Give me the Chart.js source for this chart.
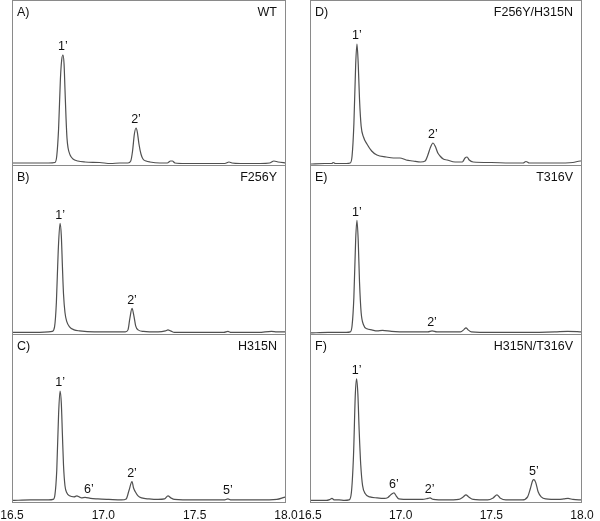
<!DOCTYPE html>
<html><head><meta charset="utf-8">
<script src="https://cdn.jsdelivr.net/npm/chart.js@4.4.1/dist/chart.umd.min.js"></script>
<style>
html,body{margin:0;padding:0;background:#fff;}
#wrap{position:relative;width:600px;height:521px;overflow:hidden;background:#fff;}
.cell{position:absolute;}
</style></head><body><div id="wrap"></div>
<script>
// ---- data (retention time in min, relative intensity) ----
const timeTicks = [16.5, 17.0, 17.5, 18.0];
const panelLetters = ['A)', 'B)', 'C)', 'D)', 'E)', 'F)'];
const panelNames = ['WT', 'F256Y', 'H315N', 'F256Y/H315N', 'T316V', 'H315N/T316V'];

const traceA = [[16.50,1],[16.60,1],[16.70,1],[16.735,1.5],[16.745,8],[16.755,35],[16.765,85],[16.772,104],[16.779,109],[16.785,100],[16.790,75],[16.796,45],[16.801,26],[16.807,16],[16.818,9],[16.834,5],[16.86,3],[16.90,2],[16.98,1.5],[17.04,0.5],[17.09,1],[17.135,1],[17.150,3],[17.160,13],[17.170,30],[17.179,36],[17.186,32],[17.195,20],[17.206,10],[17.217,5],[17.234,3],[17.255,2],[17.31,1],[17.35,1],[17.368,3],[17.378,3],[17.392,1],[17.45,0.5],[17.53,0.5],[17.665,0.5],[17.688,2],[17.704,1],[17.75,0.5],[17.86,0.5],[17.91,1],[17.934,3],[17.956,2],[18.0,1]];
const traceB = [[16.50,0.5],[16.60,0.5],[16.70,1],[16.72,1.5],[16.733,6],[16.743,30],[16.753,80],[16.763,107],[16.770,95],[16.776,65],[16.782,38],[16.790,20],[16.800,11],[16.815,6],[16.84,3],[16.87,2],[16.95,1],[17.05,1],[17.12,1],[17.135,3],[17.145,14],[17.157,24],[17.167,17],[17.177,7],[17.19,3],[17.22,1.5],[17.30,1],[17.34,2],[17.354,3],[17.368,2],[17.39,0.5],[17.50,0.5],[17.66,0.5],[17.682,1.5],[17.70,0.5],[17.85,0.5],[17.92,1.5],[17.95,1],[18.0,1]];
const traceC = [[16.50,0.5],[16.60,1],[16.70,1],[16.725,1.5],[16.735,6],[16.745,30],[16.755,85],[16.763,108],[16.770,96],[16.776,65],[16.782,35],[16.790,15],[16.800,8],[16.815,5],[16.84,4],[16.855,5],[16.868,4],[16.88,3],[16.90,3.5],[16.93,2.5],[16.97,2],[17.03,1.5],[17.10,1],[17.125,2],[17.140,10],[17.157,19],[17.165,13],[17.175,9],[17.19,5],[17.21,3],[17.25,2],[17.30,1.5],[17.335,2],[17.354,5],[17.37,3],[17.39,1.5],[17.50,1],[17.66,1],[17.682,2],[17.70,1],[17.85,1],[17.95,1.5],[17.99,3.5],[18.0,4]];
const traceD = [[16.50,0],[16.58,0.5],[16.62,0.5],[16.628,1.5],[16.64,0.5],[16.70,0.5],[16.722,1],[16.732,8],[16.742,40],[16.752,100],[16.759,120],[16.766,100],[16.773,65],[16.782,38],[16.795,27],[16.814,20],[16.84,13],[16.869,9],[16.92,7],[16.96,6],[16.996,6],[17.03,4],[17.068,3],[17.11,2],[17.135,3],[17.150,9],[17.165,17],[17.178,21],[17.19,18],[17.205,11],[17.217,8],[17.235,5],[17.256,4],[17.30,2],[17.34,2],[17.355,6],[17.366,7],[17.378,4],[17.40,2],[17.50,1.5],[17.60,1],[17.675,1],[17.691,2.5],[17.71,1],[17.85,1],[17.95,1.5],[17.99,3],[18.0,3]];
const traceE = [[16.50,0],[16.60,0.5],[16.70,0.5],[16.722,1],[16.732,7],[16.742,35],[16.752,92],[16.759,110],[16.766,90],[16.773,50],[16.782,20],[16.795,8],[16.814,4],[16.84,3],[16.87,2],[16.90,2.5],[16.95,1.5],[17.05,1],[17.15,1],[17.173,2],[17.20,1],[17.33,1],[17.35,3.5],[17.36,5],[17.372,3],[17.39,1],[17.50,0.5],[17.70,0.5],[17.85,1],[17.92,1.5],[18.0,1]];
const traceF = [[16.50,0.5],[16.59,0.5],[16.61,1.5],[16.621,2.5],[16.635,1],[16.66,1],[16.69,0.5],[16.715,1],[16.728,8],[16.740,45],[16.750,105],[16.757,120],[16.764,105],[16.771,70],[16.780,35],[16.790,15],[16.805,7],[16.83,4],[16.87,3],[16.91,2.5],[16.93,3.5],[16.945,6],[16.963,8],[16.975,5],[16.99,2],[17.05,1.5],[17.12,1.5],[17.15,2.5],[17.162,3],[17.18,1.5],[17.25,1],[17.32,1.5],[17.345,4],[17.360,6],[17.375,4],[17.40,1.5],[17.48,1],[17.51,3],[17.531,6],[17.548,3],[17.58,1],[17.67,1],[17.700,4],[17.715,12],[17.728,20],[17.735,21],[17.745,18],[17.758,9],[17.775,4],[17.80,2],[17.87,1.5],[17.90,2],[17.923,2.5],[17.95,1.5],[18.0,1]];

const peaksA = [['1’',16.779,109],['2’',17.179,36]];
const peaksB = [['1’',16.763,107],['2’',17.157,24]];
const peaksC = [['1’',16.763,108],['6’',16.921,3],['2’',17.157,19],['5’',17.682,2]];
const peaksD = [['1’',16.759,120],['2’',17.178,21]];
const peaksE = [['1’',16.759,110],['2’',17.173,2]];
const peaksF = [['1’',16.757,120],['6’',16.963,8],['2’',17.16,3],['5’',17.735,21]];

const traces = [traceA, traceB, traceC, traceD, traceE, traceF];
const peaks = [peaksA, peaksB, peaksC, peaksD, peaksE, peaksF];

// ---- layout ----
const cols = [{left:0, width:298, padL:12, padR:12}, {left:298, width:302, padL:12, padR:18}];
const rows = [{top:0, height:166, axis:false}, {top:165, height:170, axis:false}, {top:334, height:187, axis:true}];
const FONT = '"Liberation Sans", Arial, Helvetica, sans-serif';

const panelPlugin = {
  id: 'panelDeco',
  afterDatasetsDraw(chart, args, opts) {
    const {ctx, chartArea: a, scales: {x, y}} = chart;
    ctx.save();
    ctx.strokeStyle = '#8a8a8a';
    ctx.lineWidth = 1;
    ctx.strokeRect(a.left + 0.5, a.top + 0.5, a.right - a.left - 1, a.bottom - a.top - 1);
    ctx.fillStyle = '#111';
    ctx.font = '12.5px ' + FONT;
    ctx.textBaseline = 'middle';
    ctx.textAlign = 'left';
    ctx.fillText(opts.letter, a.left + 5, a.top + 13);
    ctx.textAlign = 'right';
    ctx.fillText(opts.name, a.right - 9, a.top + 13);
    ctx.textAlign = 'center';
    ctx.textBaseline = 'bottom';
    for (const [lab, t, v] of opts.peaks) {
      ctx.fillText(lab, x.getPixelForValue(t), y.getPixelForValue(v) - 2);
    }
    ctx.restore();
  }
};

const wrap = document.getElementById('wrap');
for (let c = 0; c < 2; c++) {
  for (let r = 0; r < 3; r++) {
    const idx = c * 3 + r;
    const col = cols[c], row = rows[r];
    const div = document.createElement('div');
    div.className = 'cell';
    div.style.left = col.left + 'px';
    div.style.top = row.top + 'px';
    div.style.width = col.width + 'px';
    div.style.height = row.height + 'px';
    const cv = document.createElement('canvas');
    cv.width = col.width; cv.height = row.height;
    cv.style.width = col.width + 'px'; cv.style.height = row.height + 'px';
    div.appendChild(cv);
    wrap.appendChild(div);
    const xScale = {
      type: 'linear', min: 16.5, max: 18.0,
      display: row.axis,
      grid: {display: false, drawTicks: false},
      border: {display: false},
      afterBuildTicks: (s) => { s.ticks = timeTicks.map(v => ({value: v})); },
      ticks: {
        padding: 7,
        color: '#111',
        font: {family: FONT, size: 12, lineHeight: 1},
        maxRotation: 0,
        minRotation: 0,
        autoSkip: false,
        callback: (v) => Number(v).toFixed(1)
      }
    };
    if (row.axis) {
      xScale.afterFit = (s) => { s.height = 18; s.paddingLeft = 0; s.paddingRight = 0; s.paddingTop = 0; s.paddingBottom = 0; };
    }
    new Chart(cv, {
      type: 'line',
      data: {
        datasets: [{
          data: traces[idx].map(p => ({x: p[0], y: p[1]})),
          borderColor: '#505050',
          borderWidth: 1.2,
          pointRadius: 0,
          fill: false,
          cubicInterpolationMode: 'monotone'
        }]
      },
      options: {
        responsive: false,
        animation: false,
        devicePixelRatio: 1,
        layout: {padding: {left: col.padL, right: col.padR, top: 0, bottom: 0}},
        plugins: {
          legend: {display: false},
          tooltip: {enabled: false},
          panelDeco: {letter: panelLetters[idx], name: panelNames[idx], peaks: peaks[idx]}
        },
        scales: {
          x: xScale,
          y: {type: 'linear', min: -2, max: 164, display: false}
        }
      },
      plugins: [panelPlugin]
    });
  }
}
</script></body></html>
